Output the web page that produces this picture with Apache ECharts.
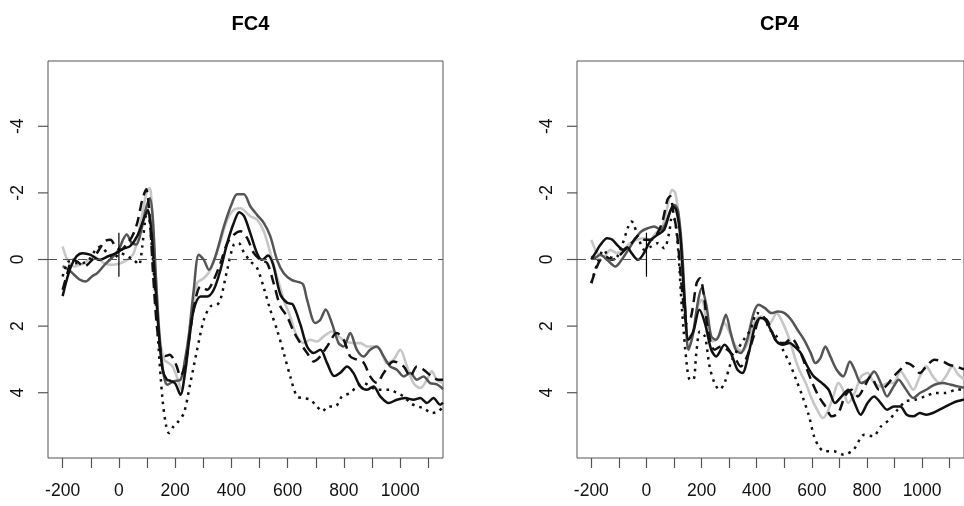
<!DOCTYPE html>
<html>
<head>
<meta charset="utf-8">
<title>FC4 / CP4 ERP</title>
<script src="https://cdn.jsdelivr.net/npm/echarts@6/dist/echarts.min.js"></script>
<style>
  html, body { margin: 0; padding: 0; background: #ffffff; }
  #chart { width: 964px; height: 506px; }
</style>
</head>
<body>
<div id="chart"></div>
<script>
// ---- panel titles and tick labels ----
const panelTitles = ['FC4', 'CP4'];
const xTickValues = [-200, -100, 0, 100, 200, 300, 400, 500, 600, 700, 800, 900, 1000, 1100];
const xLabelValues = [-200, 0, 200, 400, 600, 800, 1000];
const yLabelValues = [-4, -2, 0, 2, 4];
const stimulusMarker = [[0, -0.8], [0, 0.52]]; // short vertical mark at stimulus onset

// ---- FC4 waveforms: [time (ms), amplitude (µV)] ----
const fc4Black = [[-200,1.1],[-185,0.6],[-170,0.2],[-150,-0.1],[-130,-0.19],[-100,-0.14],[-70,0.01],[-40,-0.09],[-10,-0.19],[15,-0.32],[40,-0.4],[65,-0.7],[88,-1.2],[103,-1.49],[115,-0.9],[125,0.2],[140,2.0],[155,3.3],[170,3.6],[185,3.65],[200,3.72],[219,4.06],[235,3.4],[250,2.4],[266,1.51],[290,1.11],[314,1.11],[337,0.91],[361,0.31],[385,-0.49],[408,-1.09],[428,-1.42],[445,-1.3],[467,-0.79],[491,-0.19],[509,0.01],[530,-0.12],[548,0.15],[574,1.05],[598,1.3],[618,1.35],[645,1.95],[669,2.61],[692,2.81],[716,2.71],[740,3.11],[765,3.5],[787,3.4],[811,3.21],[834,3.41],[858,3.81],[882,3.91],[905,3.81],[929,4.11],[959,4.31],[988,4.21],[1018,4.16],[1047,4.21],[1071,4.16],[1095,4.31],[1118,4.16],[1142,4.36],[1152,4.3]];
const fc4DarkGrey = [[-200,0.2],[-180,0.3],[-160,0.45],[-140,0.6],[-118,0.66],[-95,0.5],[-77,0.41],[-50,0.15],[-25,-0.05],[0,-0.3],[15,-0.6],[28,-0.75],[45,-0.5],[62,-0.45],[80,-0.9],[95,-1.5],[110,-1.84],[120,-1.3],[130,0.3],[145,2.4],[160,3.5],[172,3.76],[195,3.65],[219,3.61],[235,3.0],[248,2.31],[266,0.91],[284,-0.14],[302,0.01],[320,0.31],[343,-0.09],[373,-0.99],[402,-1.69],[420,-1.96],[444,-1.96],[467,-1.6],[491,-1.34],[515,-1.1],[538,-0.7],[562,0.01],[586,0.41],[615,0.62],[640,0.68],[655,0.75],[669,1.21],[698,1.91],[716,1.81],[735,1.5],[757,1.91],[781,2.51],[799,2.61],[822,2.21],[846,2.71],[870,2.91],[893,2.71],[917,2.61],[941,2.91],[964,3.21],[988,3.31],[1012,3.51],[1036,3.41],[1059,3.61],[1083,3.51],[1106,3.71],[1130,3.75],[1152,3.89]];
const fc4LightGrey = [[-200,-0.39],[-183,0.01],[-160,0.21],[-124,0.11],[-89,-0.09],[-53,0.11],[-30,0.16],[6,0.11],[30,0.01],[53,-0.19],[77,-1.09],[100,-2.09],[110,-2.14],[118,-1.4],[128,0],[145,2.3],[160,3.0],[175,3.1],[190,3.2],[205,3.5],[222,3.9],[237,3.3],[254,2.11],[278,0.71],[302,0.56],[325,0.31],[355,-0.39],[385,-1.19],[408,-1.49],[432,-1.54],[467,-1.3],[491,-1.2],[515,-0.85],[538,-0.2],[562,0.51],[586,1.21],[609,1.71],[633,2.31],[657,2.51],[680,2.41],[704,2.46],[728,2.31],[757,2.16],[781,2.31],[805,2.46],[834,2.51],[858,2.51],[882,2.61],[905,2.61],[929,2.71],[953,3.11],[976,3.01],[1000,2.71],[1024,3.21],[1047,3.71],[1071,3.86],[1095,3.61],[1112,3.36],[1130,3.61],[1152,3.71]];
const fc4Dashed = [[-200,0.91],[-183,0.41],[-166,0.01],[-148,0.06],[-124,0.21],[-95,0.01],[-70,-0.3],[-50,-0.55],[-30,-0.59],[-12,-0.39],[6,-0.29],[30,-0.49],[47,-0.69],[65,-1.09],[83,-1.79],[97,-2.11],[110,-1.2],[122,0.5],[135,2.0],[150,2.8],[165,2.9],[180,2.86],[195,3.0],[205,3.2],[219,3.51],[237,3.11],[254,2.11],[272,1.21],[290,0.81],[314,0.91],[337,0.61],[361,0.11],[385,-0.49],[408,-0.74],[432,-0.85],[456,-0.64],[479,-0.2],[503,0.01],[527,0.11],[550,0.71],[574,1.41],[598,1.71],[621,2.16],[645,2.51],[669,2.81],[692,3.06],[716,2.91],[740,2.61],[775,2.21],[799,2.41],[822,2.91],[846,3.01],[870,3.1],[893,3.51],[917,3.71],[941,3.41],[976,3.06],[1012,3.21],[1036,3.51],[1059,3.21],[1083,3.31],[1112,3.51],[1136,3.61],[1152,3.61]];
const fc4Dotted = [[-200,0.51],[-177,0.06],[-154,0.11],[-130,0.11],[-106,0.01],[-83,-0.29],[-65,-0.39],[-41,-0.19],[-18,-0.04],[6,-0.19],[30,-0.09],[53,0.01],[71,0.16],[83,-0.39],[95,-1.29],[103,-1.44],[112,-0.9],[125,0.5],[140,2.5],[155,4.2],[168,5.0],[178,5.21],[195,5.0],[207,4.91],[231,4.61],[254,3.71],[278,2.71],[302,1.81],[325,1.41],[349,1.36],[361,1.21],[385,0.31],[408,-0.44],[425,-0.5],[445,-0.2],[467,0.05],[491,0.25],[515,0.85],[538,1.51],[562,2.11],[586,2.81],[609,3.51],[633,4.11],[657,4.16],[680,4.21],[704,4.41],[722,4.56],[746,4.41],[769,4.41],[793,4.11],[822,4.01],[846,3.81],[870,3.71],[893,3.81],[917,3.91],[941,3.91],[964,3.91],[988,4.01],[1012,4.11],[1036,4.31],[1059,4.41],[1083,4.46],[1112,4.61],[1136,4.56],[1152,4.41]];

// ---- CP4 waveforms: [time (ms), amplitude (µV)] ----
const cp4Black = [[-200,0.0],[-185,-0.2],[-167,-0.44],[-143,-0.64],[-125,-0.6],[-102,-0.4],[-84,-0.29],[-70,-0.37],[-54,-0.19],[-31,0.01],[-13,-0.14],[17,-0.59],[40,-0.74],[64,-0.89],[82,-1.34],[96,-1.59],[108,-1.49],[123,-0.69],[138,1.21],[152,2.41],[170,2.16],[192,1.51],[212,1.91],[235,2.71],[253,2.91],[283,2.56],[306,2.81],[330,3.31],[348,3.41],[371,2.81],[395,1.96],[413,1.76],[430,1.81],[454,2.16],[472,2.46],[495,2.56],[519,2.51],[537,2.61],[560,2.81],[584,3.21],[607,3.51],[637,3.71],[661,3.91],[684,4.31],[708,4.11],[732,3.91],[755,4.31],[777,4.66],[802,4.31],[826,4.11],[850,4.31],[873,4.51],[897,4.41],[921,4.41],[944,4.66],[968,4.71],[992,4.61],[1015,4.66],[1039,4.61],[1063,4.51],[1086,4.41],[1110,4.31],[1130,4.25],[1152,4.2]];
const cp4DarkGrey = [[-200,-0.1],[-190,-0.04],[-167,-0.14],[-143,0.01],[-113,0.21],[-90,0.01],[-66,-0.29],[-43,-0.59],[-19,-0.84],[5,-0.94],[28,-0.99],[52,-0.89],[70,-1.09],[88,-1.49],[102,-1.64],[115,-1.44],[129,-0.29],[141,1.51],[152,2.71],[167,2.31],[188,1.21],[200,0.86],[218,1.41],[235,2.31],[253,2.41],[277,1.91],[288,1.66],[306,2.21],[324,2.71],[342,2.81],[365,2.41],[389,1.61],[407,1.36],[430,1.46],[454,1.61],[477,1.56],[501,1.61],[525,1.81],[548,2.11],[572,2.41],[596,2.81],[613,3.11],[631,2.96],[649,2.61],[667,2.91],[690,3.31],[714,3.51],[738,3.06],[755,3.31],[779,3.71],[802,3.61],[826,3.36],[850,3.71],[873,4.11],[897,3.81],[915,3.61],[938,3.86],[968,4.16],[992,4.01],[1015,3.91],[1045,3.76],[1075,3.71],[1104,3.76],[1130,3.81],[1152,3.85]];
const cp4LightGrey = [[-200,-0.59],[-178,-0.19],[-155,-0.09],[-131,-0.29],[-107,-0.19],[-84,-0.29],[-60,-0.49],[-37,-0.59],[-13,-0.64],[11,-0.59],[34,-0.79],[58,-0.99],[76,-1.59],[93,-2.09],[105,-1.99],[119,-1.09],[135,1.01],[149,2.31],[164,2.31],[186,1.41],[200,1.21],[223,2.11],[241,2.46],[265,2.26],[283,1.91],[300,2.16],[324,2.61],[348,2.76],[371,2.41],[395,1.81],[418,1.71],[436,1.81],[448,1.91],[472,1.61],[495,1.91],[519,2.41],[537,2.91],[554,3.31],[578,3.71],[596,4.11],[619,4.51],[640,4.76],[655,4.61],[678,4.11],[696,3.71],[710,3.86],[732,4.31],[755,4.01],[779,3.51],[802,3.41],[826,3.71],[850,3.81],[873,3.71],[897,3.71],[921,3.36],[944,3.61],[968,3.91],[992,3.51],[1015,3.21],[1039,3.51],[1063,3.71],[1086,3.51],[1110,3.21],[1130,3.45],[1152,3.6]];
const cp4Dashed = [[-200,0.71],[-184,0.31],[-167,0.01],[-149,-0.09],[-125,0.01],[-102,-0.09],[-78,-0.29],[-54,-0.49],[-31,-0.69],[-7,-0.59],[17,-0.59],[40,-0.79],[58,-1.14],[76,-1.79],[86,-1.9],[98,-1.4],[111,-0.79],[129,0.91],[147,1.91],[162,1.71],[182,0.71],[194,0.56],[209,1.11],[223,2.11],[247,2.71],[271,2.61],[294,2.71],[318,2.91],[342,3.21],[365,2.91],[389,2.31],[413,1.75],[436,1.81],[460,2.26],[478,2.51],[501,2.51],[525,2.36],[554,2.71],[578,3.21],[602,3.71],[625,4.11],[649,4.41],[673,4.71],[696,4.61],[720,4.11],[743,3.91],[767,4.11],[791,3.81],[814,3.51],[844,3.91],[868,3.81],[897,3.51],[921,3.31],[944,3.11],[968,3.21],[992,3.41],[1015,3.21],[1045,3.01],[1075,3.06],[1098,3.16],[1124,3.21],[1152,3.3]];
const cp4Dotted = [[-200,0.71],[-178,0.11],[-155,-0.29],[-137,-0.09],[-113,-0.04],[-90,-0.39],[-66,-0.99],[-55,-1.14],[-48,-1.1],[-31,-0.69],[-7,-0.29],[17,-0.39],[40,-0.49],[64,-0.34],[82,-0.79],[93,-1.29],[103,-1.19],[115,-0.29],[129,1.51],[147,3.21],[158,3.61],[170,3.61],[182,2.71],[194,2.16],[212,2.31],[229,3.21],[247,3.71],[265,3.91],[283,3.71],[306,3.11],[330,2.71],[353,2.41],[377,2.11],[401,1.61],[424,1.71],[448,2.11],[472,2.31],[495,2.71],[519,3.11],[543,3.61],[566,4.11],[590,4.71],[608,5.31],[625,5.61],[645,5.76],[680,5.76],[716,5.86],[751,5.71],[791,5.26],[822,5.31],[851,5.01],[881,4.81],[911,4.51],[940,4.26],[975,4.21],[1011,4.11],[1046,4.01],[1082,4.01],[1124,3.91],[1152,3.9]];

// ---- styling ----
const FONT = '"Liberation Sans", Arial, Helvetica, sans-serif';
const AXIS_GREY = '#555555';
const X_MIN = -252, X_MAX = 1152, Y_MIN = -5.96, Y_MAX = 5.96;
const TICK_LEN = 10;
const styles = {
  lightGrey: { color: '#c6c6c6', width: 2.6, type: 'solid' },
  darkGrey:  { color: '#555555', width: 2.5, type: 'solid' },
  black:     { color: '#111111', width: 2.5, type: 'solid' },
  dashed:    { color: '#111111', width: 2.5, type: [10, 6] },
  dotted:    { color: '#111111', width: 2.5, type: [2.6, 5] }
};

const panels = [
  { title: panelTitles[0], left: 48, data: { lightGrey: fc4LightGrey, darkGrey: fc4DarkGrey, black: fc4Black, dashed: fc4Dashed, dotted: fc4Dotted } },
  { title: panelTitles[1], left: 577, data: { lightGrey: cp4LightGrey, darkGrey: cp4DarkGrey, black: cp4Black, dashed: cp4Dashed, dotted: cp4Dotted } }
];
const GRID_W = 395, GRID_H = 397, GRID_TOP = 61;
const plainNumber = v => String(v);

const option = {
  animation: false,
  backgroundColor: '#ffffff',
  title: panels.map(p => ({
    text: p.title,
    left: p.left + GRID_W / 2,
    top: 19,
    textAlign: 'center',
    textVerticalAlign: 'middle',
    textStyle: { fontFamily: FONT, fontSize: 20, fontWeight: 'bold', color: '#000' }
  })),
  grid: panels.map(p => ({
    left: p.left, top: GRID_TOP, width: GRID_W, height: GRID_H,
    show: true, borderColor: AXIS_GREY, borderWidth: 1, backgroundColor: 'transparent'
  })),
  xAxis: panels.map((p, i) => ({
    type: 'value', gridIndex: i, min: X_MIN, max: X_MAX,
    axisLine: { show: false, onZero: false },
    splitLine: { show: false },
    axisTick: { show: true, length: TICK_LEN, customValues: xTickValues, lineStyle: { color: AXIS_GREY, width: 1.2 } },
    axisLabel: { customValues: xLabelValues, formatter: plainNumber, margin: 24, fontFamily: FONT, fontSize: 17.5, color: '#111' }
  })),
  yAxis: panels.map((p, i) => ({
    type: 'value', gridIndex: i, min: Y_MIN, max: Y_MAX, inverse: true,
    axisLine: { show: false, onZero: false },
    splitLine: { show: false },
    axisTick: { show: false },
    axisLabel: { customValues: yLabelValues, rotate: 90, margin: 21, fontFamily: FONT, fontSize: 17.5, color: '#111' }
  })),
  series: []
};

// outward tick marks on the left edge of a panel, positioned through the axis scale
function yTickItem(params, api) {
  const pt = api.coord([api.value(0), api.value(1)]);
  return {
    type: 'line',
    shape: { x1: pt[0] - TICK_LEN, y1: pt[1], x2: pt[0], y2: pt[1] },
    style: { stroke: AXIS_GREY, lineWidth: 1.2 }
  };
}

panels.forEach((p, i) => {
  ['lightGrey', 'darkGrey', 'black', 'dashed', 'dotted'].forEach((key, k) => {
    const s = {
      type: 'line', xAxisIndex: i, yAxisIndex: i,
      data: p.data[key], showSymbol: false, symbol: 'none',
      smooth: 0.3, clip: true, silent: true,
      lineStyle: Object.assign({ cap: 'butt', join: 'round' }, styles[key])
    };
    if (k === 0) {
      // dashed zero baseline across the full panel
      s.markLine = {
        silent: true, symbol: ['none', 'none'], label: { show: false },
        lineStyle: { color: AXIS_GREY, width: 1.2, type: [9, 6] },
        data: [{ yAxis: 0 }]
      };
    }
    option.series.push(s);
  });
  option.series.push({
    type: 'line', xAxisIndex: i, yAxisIndex: i, data: stimulusMarker,
    showSymbol: false, symbol: 'none', silent: true,
    lineStyle: { color: '#000', width: 1.2, type: 'solid' }
  });
  option.series.push({
    type: 'custom', xAxisIndex: i, yAxisIndex: i, silent: true, clip: false,
    data: yLabelValues.map(v => [X_MIN, v]),
    renderItem: yTickItem
  });
});

const chart = echarts.init(document.getElementById('chart'), null, { renderer: 'canvas' });
chart.setOption(option);
</script>
</body>
</html>
